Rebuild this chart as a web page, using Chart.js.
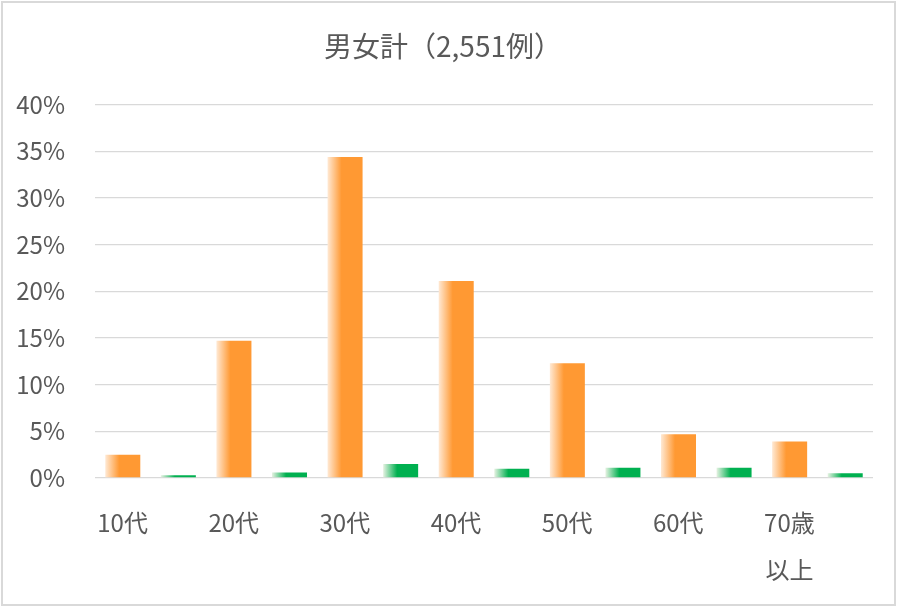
<!DOCTYPE html>
<html lang="ja">
<head>
<meta charset="utf-8">
<title>男女計（2,551例）</title>
<script src="https://cdn.jsdelivr.net/npm/chart.js@4.4.1/dist/chart.umd.min.js"></script>
<style>
  html, body { margin: 0; padding: 0; background: #fff; }
</style>
</head>
<body>
<canvas id="graficoIdade" width="900" height="610"></canvas>
<script>
// faixas etárias e porcentagens (%) de cada série
const faixas = ['10代', '20代', '30代', '40代', '50代', '60代', ['70歳', '以上']];
const serieLaranja = [2.5, 14.7, 34.4, 21.1, 12.3, 4.7, 3.9];
const serieVerde = [0.3, 0.6, 1.5, 1.0, 1.1, 1.1, 0.5];
const ticksY = [0, 5, 10, 15, 20, 25, 30, 35, 40];

const fonte = '"Noto Sans CJK JP", "Noto Sans", sans-serif';
const corTexto = '#595959';

// degradê horizontal em cada barra (claro na esquerda)
const degrade = {
    id: 'degrade',
    beforeDatasetsDraw(chart) {
        const ctx = chart.ctx;
        chart.data.datasets.forEach((ds, i) => {
            chart.getDatasetMeta(i).data.forEach(barra => {
                const esq = barra.x - barra.width / 2;
                const g = ctx.createLinearGradient(esq, 0, esq + barra.width, 0);
                g.addColorStop(0, ds.corClara);
                g.addColorStop(0.4, ds.corBase);
                g.addColorStop(1, ds.corBase);
                barra.options.backgroundColor = g;
            });
        });
    }
};

// fundo branco e moldura cinza
const moldura = {
    id: 'moldura',
    beforeDraw(chart) {
        const { ctx, width, height } = chart;
        ctx.save();
        ctx.fillStyle = '#fff';
        ctx.fillRect(0, 0, width, height);
        ctx.strokeStyle = '#d9d9d9';
        ctx.lineWidth = 2;
        ctx.strokeRect(2, 2, width - 7, height - 7);
        ctx.restore();
    }
};

const dados = {
    labels: faixas,
    datasets: [{
        label: 'A',
        data: serieLaranja,
        corBase: '#ff9933',
        corClara: '#ffe9d4',
        backgroundColor: () => '#ff9933',
        borderWidth: 0,
        categoryPercentage: 1.0,
        barPercentage: 0.63
    }, {
        label: 'B',
        data: serieVerde,
        corBase: '#00b050',
        corClara: '#e6f2e2',
        backgroundColor: () => '#00b050',
        borderWidth: 0,
        categoryPercentage: 1.0,
        barPercentage: 0.63
    }]
};

const config = {
    type: 'bar',
    data: dados,
    options: {
        responsive: false,
        animation: false,
        layout: { padding: { left: 13, right: 27, top: 0, bottom: 0 } },
        plugins: {
            legend: { display: false },
            tooltip: { enabled: false },
            title: {
                display: true,
                text: '男女計（2,551例）',
                color: corTexto,
                font: { family: fonte, size: 28, weight: 'normal', lineHeight: 1.2 },
                padding: { top: 30, bottom: 41 }
            }
        },
        scales: {
            x: {
                grid: { display: false },
                border: { display: false },
                ticks: {
                    color: corTexto,
                    font: { family: fonte, size: 24, lineHeight: 1.96 },
                    padding: 13,
                    labelOffset: -28,
                    maxRotation: 0,
                    autoSkip: false
                },
                afterFit(s) { s.height = 132; }
            },
            y: {
                min: 0,
                max: 40,
                afterBuildTicks(s) { s.ticks = ticksY.map(v => ({ value: v })); },
                grid: { color: '#d9d9d9', lineWidth: 1.3, drawTicks: false },
                border: { display: false },
                ticks: {
                    color: corTexto,
                    font: { family: fonte, size: 24 },
                    padding: 30,
                    callback: v => v + '%'
                },
                afterFit(s) { s.width = 82; }
            }
        }
    },
    plugins: [moldura, degrade]
};

new Chart(document.getElementById('graficoIdade'), config);
</script>
</body>
</html>
